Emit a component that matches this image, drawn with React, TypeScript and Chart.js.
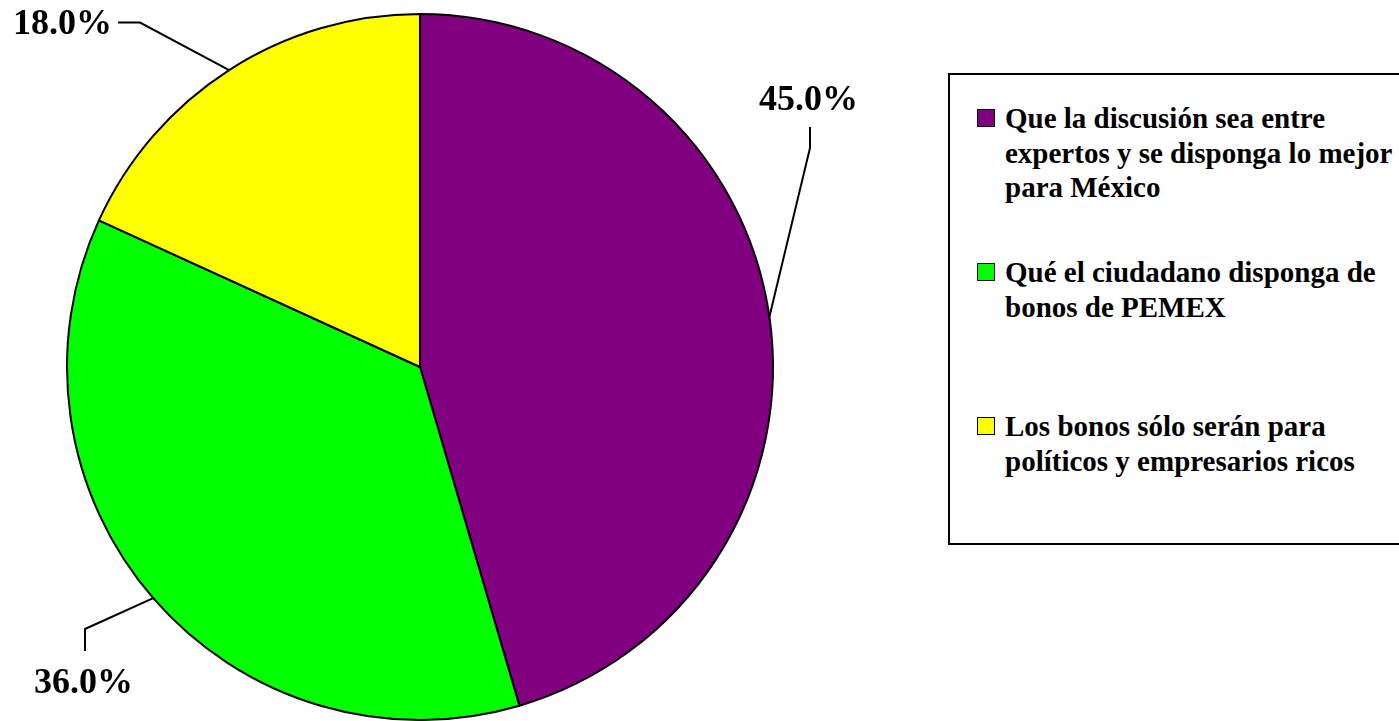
import React, { useEffect, useRef } from "react";
import { Chart, registerables } from "chart.js";

Chart.register(...registerables);

const categories = [
  "Que la discusión sea entre expertos y se disponga lo mejor para México",
  "Qué el ciudadano disponga de bonos de PEMEX",
  "Los bonos sólo serán para políticos y empresarios ricos",
];
const values = [45, 36, 18];
const valueLabels = ["45.0%", "36.0%", "18.0%"];
const colors = ["#800080", "#00FF00", "#FFFF00"];

const FONT = '"Liberation Serif", "Times New Roman", serif';

// leader-line layout (offsets from pie centre, px)
const LABEL_LAYOUT = [
  { elbow: [390, -219], end: [390, -240], text: [388.5, -257], align: "center" },
  { elbow: [-335, 262], end: [-335, 284], text: [-336.5, 326], align: "center" },
  { elbow: [-280, -344.5], end: [-302, -344.5], text: [-308, -333], align: "right" },
];

const leaderPlugin = {
  id: "leaderLabels",
  afterDatasetsDraw(chart: any) {
    const ctx = chart.ctx;
    const meta = chart.getDatasetMeta(0);
    ctx.save();
    meta.data.forEach((arc: any, i: number) => {
      const p = arc.getProps(["x", "y", "startAngle", "endAngle", "outerRadius"], true);
      const mid = (p.startAngle + p.endAngle) / 2;
      const sx = p.x + Math.cos(mid) * p.outerRadius;
      const sy = p.y + Math.sin(mid) * p.outerRadius;
      const L = LABEL_LAYOUT[i];
      ctx.beginPath();
      ctx.strokeStyle = "#000";
      ctx.lineWidth = 2;
      ctx.moveTo(sx, sy);
      ctx.lineTo(p.x + L.elbow[0], p.y + L.elbow[1]);
      ctx.lineTo(p.x + L.end[0], p.y + L.end[1]);
      ctx.stroke();
      ctx.fillStyle = "#000";
      ctx.font = `bold 36px ${FONT}`;
      ctx.textAlign = L.align;
      ctx.textBaseline = "alphabetic";
      ctx.fillText(valueLabels[i], p.x + L.text[0], p.y + L.text[1]);
    });
    ctx.restore();
  },
};

export default function App() {
  const ref = useRef<HTMLCanvasElement | null>(null);
  useEffect(() => {
    if (!ref.current) return;
    const chart = new Chart(ref.current, {
      type: "pie",
      data: {
        labels: categories,
        datasets: [
          {
            data: values,
            backgroundColor: colors,
            borderColor: "#000",
            borderWidth: 2,
          },
        ],
      },
      options: {
        responsive: false,
        animation: false,
        layout: { padding: { left: 66, right: 625, top: 13, bottom: 0 } },
        plugins: {
          legend: { display: false },
          tooltip: { enabled: false },
        },
      },
      plugins: [leaderPlugin],
    });
    return () => chart.destroy();
  }, []);

  return (
    <div
      style={{
        position: "fixed",
        left: 0,
        top: 0,
        width: 1399,
        height: 721,
        overflow: "hidden",
        background: "#fff",
      }}
    >
      <canvas ref={ref} width={1399} height={721} style={{ display: "block" }} />
      <div
        style={{
          position: "absolute",
          left: 948,
          top: 73,
          width: 480,
          height: 472,
          border: "2px solid #000",
          boxSizing: "border-box",
          background: "#fff",
        }}
      >
        {categories.map((c, i) => (
          <React.Fragment key={i}>
            <div
              style={{
                position: "absolute",
                left: 27,
                top: 34 + i * 154,
                width: 16,
                height: 16,
                background: colors[i],
                border: "1.5px solid #000",
              }}
            />
            <div
              style={{
                position: "absolute",
                left: 55,
                top: 26 + i * 154,
                width: 400,
                fontFamily: FONT,
                fontWeight: "bold",
                fontSize: 29,
                lineHeight: "34.5px",
                color: "#000",
              }}
            >
              {c}
            </div>
          </React.Fragment>
        ))}
      </div>
    </div>
  );
}
